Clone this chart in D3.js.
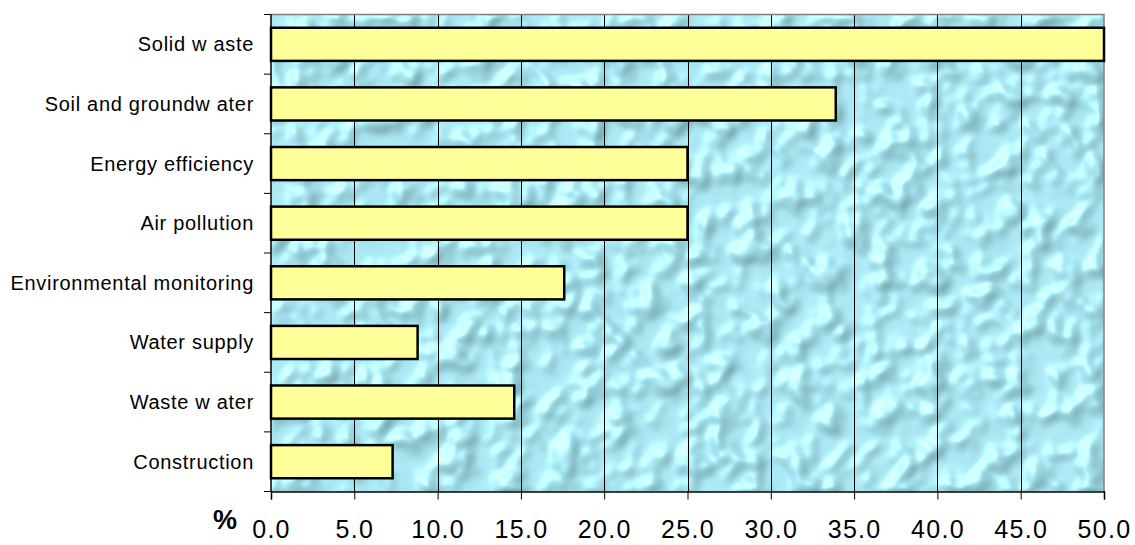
<!DOCTYPE html>
<html>
<head>
<meta charset="utf-8">
<script src="https://cdn.jsdelivr.net/npm/d3@7"></script>
<style>
  html, body { margin: 0; padding: 0; background: #ffffff; }
  svg { display: block; }
</style>
</head>
<body>
<svg id="chart" width="1135" height="545"></svg>
<script>
// Project areas, share of total (%)
const categories = [
  "Solid w aste",
  "Soil and groundw ater",
  "Energy efficiency",
  "Air pollution",
  "Environmental monitoring",
  "Water supply",
  "Waste w ater",
  "Construction"
];
const shares = [50.0, 33.9, 25.0, 25.0, 17.6, 8.8, 14.6, 7.3];
const xTickValues = [0, 5, 10, 15, 20, 25, 30, 35, 40, 45, 50];

const FONT = "Liberation Sans, Arial, sans-serif";
const svg = d3.select("#chart");
const width = 1135, height = 545;
const margin = { left: 271, right: width - 1104, top: 14.5, bottom: height - 491.5 };

const x = d3.scaleLinear().domain([0, 50]).range([margin.left, width - margin.right]);
const y = d3.scaleBand().domain(categories)
  .range([margin.top, height - margin.bottom])
  .paddingInner(0.8 / 1.8).paddingOuter(0.4 / 1.8);

// Water-drop texture for the plot background: noise thresholded into blobs,
// then softly lit so the blobs read as droplets with highlights.
const defs = svg.append("defs");
const f = defs.append("filter").attr("id", "water")
  .attr("x", 0).attr("y", 0).attr("width", 1).attr("height", 1)
  .attr("color-interpolation-filters", "sRGB");
f.append("feTurbulence").attr("type", "fractalNoise")
  .attr("baseFrequency", "0.038").attr("numOctaves", 2).attr("seed", 4).attr("result", "n");
f.append("feColorMatrix").attr("in", "n").attr("type", "matrix")
  .attr("values", "0 0 0 0 0  0 0 0 0 0  0 0 0 0 0  1.8 0 0 0 -0.55").attr("result", "a");
const ct = f.append("feComponentTransfer").attr("in", "a").attr("result", "b");
ct.append("feFuncA").attr("type", "table").attr("tableValues", "0 0.05 0.35 0.85 1");
f.append("feGaussianBlur").attr("in", "b").attr("stdDeviation", 2.6).attr("result", "h");
const dl = f.append("feDiffuseLighting").attr("in", "h")
  .attr("surfaceScale", 3.5).attr("diffuseConstant", 1.0)
  .attr("lighting-color", "#ffffff").attr("result", "d");
dl.append("feDistantLight").attr("azimuth", 225).attr("elevation", 50);
const sl = f.append("feSpecularLighting").attr("in", "h")
  .attr("surfaceScale", 3.5).attr("specularConstant", 0.6).attr("specularExponent", 22)
  .attr("lighting-color", "#ffffff").attr("result", "s");
sl.append("feDistantLight").attr("azimuth", 225).attr("elevation", 50);
f.append("feComposite").attr("in", "d").attr("in2", "SourceGraphic")
  .attr("operator", "arithmetic").attr("k1", 0.42).attr("k2", 0).attr("k3", 0.66).attr("k4", 0)
  .attr("result", "c");
f.append("feColorMatrix").attr("in", "c").attr("type", "saturate").attr("values", 1.2)
  .attr("result", "c2");
f.append("feComposite").attr("in", "s").attr("in2", "c2")
  .attr("operator", "arithmetic").attr("k1", 0).attr("k2", 0.3).attr("k3", 1).attr("k4", 0)
  .attr("result", "o");
f.append("feComposite").attr("in", "o").attr("in2", "SourceGraphic").attr("operator", "in");

const plotW = x(50) - x(0), plotH = (height - margin.bottom) - margin.top;
svg.append("rect")
  .attr("x", x(0)).attr("y", margin.top).attr("width", plotW).attr("height", plotH)
  .attr("fill", "#ace0e9");
svg.append("rect")
  .attr("x", x(0)).attr("y", margin.top).attr("width", plotW).attr("height", plotH)
  .attr("fill", "#abdfe8").attr("filter", "url(#water)");

// Vertical gridlines
svg.append("g").selectAll("line")
  .data(xTickValues.slice(1, -1))
  .join("line")
  .attr("x1", d => Math.round(x(d)) + 0.5).attr("x2", d => Math.round(x(d)) + 0.5)
  .attr("y1", margin.top).attr("y2", height - margin.bottom)
  .attr("stroke", "#000").attr("stroke-width", 1);

// Plot border (top and right)
svg.append("path")
  .attr("d", `M${x(0)},${margin.top}H${x(50)}V${height - margin.bottom}`)
  .attr("fill", "none").attr("stroke", "#808080").attr("stroke-width", 1.5);

// Bars
svg.append("g").selectAll("rect")
  .data(categories.map((c, i) => ({ c, v: shares[i] })))
  .join("rect")
  .attr("x", x(0))
  .attr("y", d => y(d.c))
  .attr("width", d => x(d.v) - x(0))
  .attr("height", y.bandwidth())
  .attr("fill", "#ffff99")
  .attr("stroke", "#000").attr("stroke-width", 2.5);

// X axis
const xAxis = d3.axisBottom(x).tickValues(xTickValues)
  .tickFormat(d3.format(".1f")).tickSize(8).tickPadding(21);
const gx = svg.append("g")
  .attr("transform", `translate(0,${height - margin.bottom})`)
  .call(xAxis);
gx.select(".domain").attr("stroke", "#000").attr("stroke-width", 1.5);
gx.selectAll(".tick line").attr("stroke", "#000");
gx.selectAll(".tick text")
  .attr("font-family", FONT)
  .attr("font-size", 25).attr("letter-spacing", 1.3).attr("fill", "#000");

// Y axis: ticks sit between categories
const gy = svg.append("g").attr("transform", `translate(${x(0)},0)`);
gy.append("line")
  .attr("x1", 0).attr("x2", 0)
  .attr("y1", margin.top).attr("y2", height - margin.bottom)
  .attr("stroke", "#000").attr("stroke-width", 1.5);
const boundaries = d3.range(categories.length + 1)
  .map(i => margin.top + i * (plotH / categories.length));
gy.selectAll("line.tk").data(boundaries).join("line").attr("class", "tk")
  .attr("x1", -7).attr("x2", 0)
  .attr("y1", d => d).attr("y2", d => d)
  .attr("stroke", "#000").attr("stroke-width", 1);
gy.selectAll("text").data(categories).join("text")
  .attr("x", -17)
  .attr("y", d => y(d) + y.bandwidth() / 2)
  .attr("dy", "0.35em")
  .attr("text-anchor", "end")
  .attr("font-family", FONT)
  .attr("font-size", 20).attr("letter-spacing", 0.7).attr("fill", "#000")
  .text(d => d);

// Unit label
svg.append("text")
  .attr("x", 225).attr("y", 529)
  .attr("text-anchor", "middle")
  .attr("font-family", FONT)
  .attr("font-size", 27).attr("font-weight", "bold")
  .text("%");
</script>
</body>
</html>
